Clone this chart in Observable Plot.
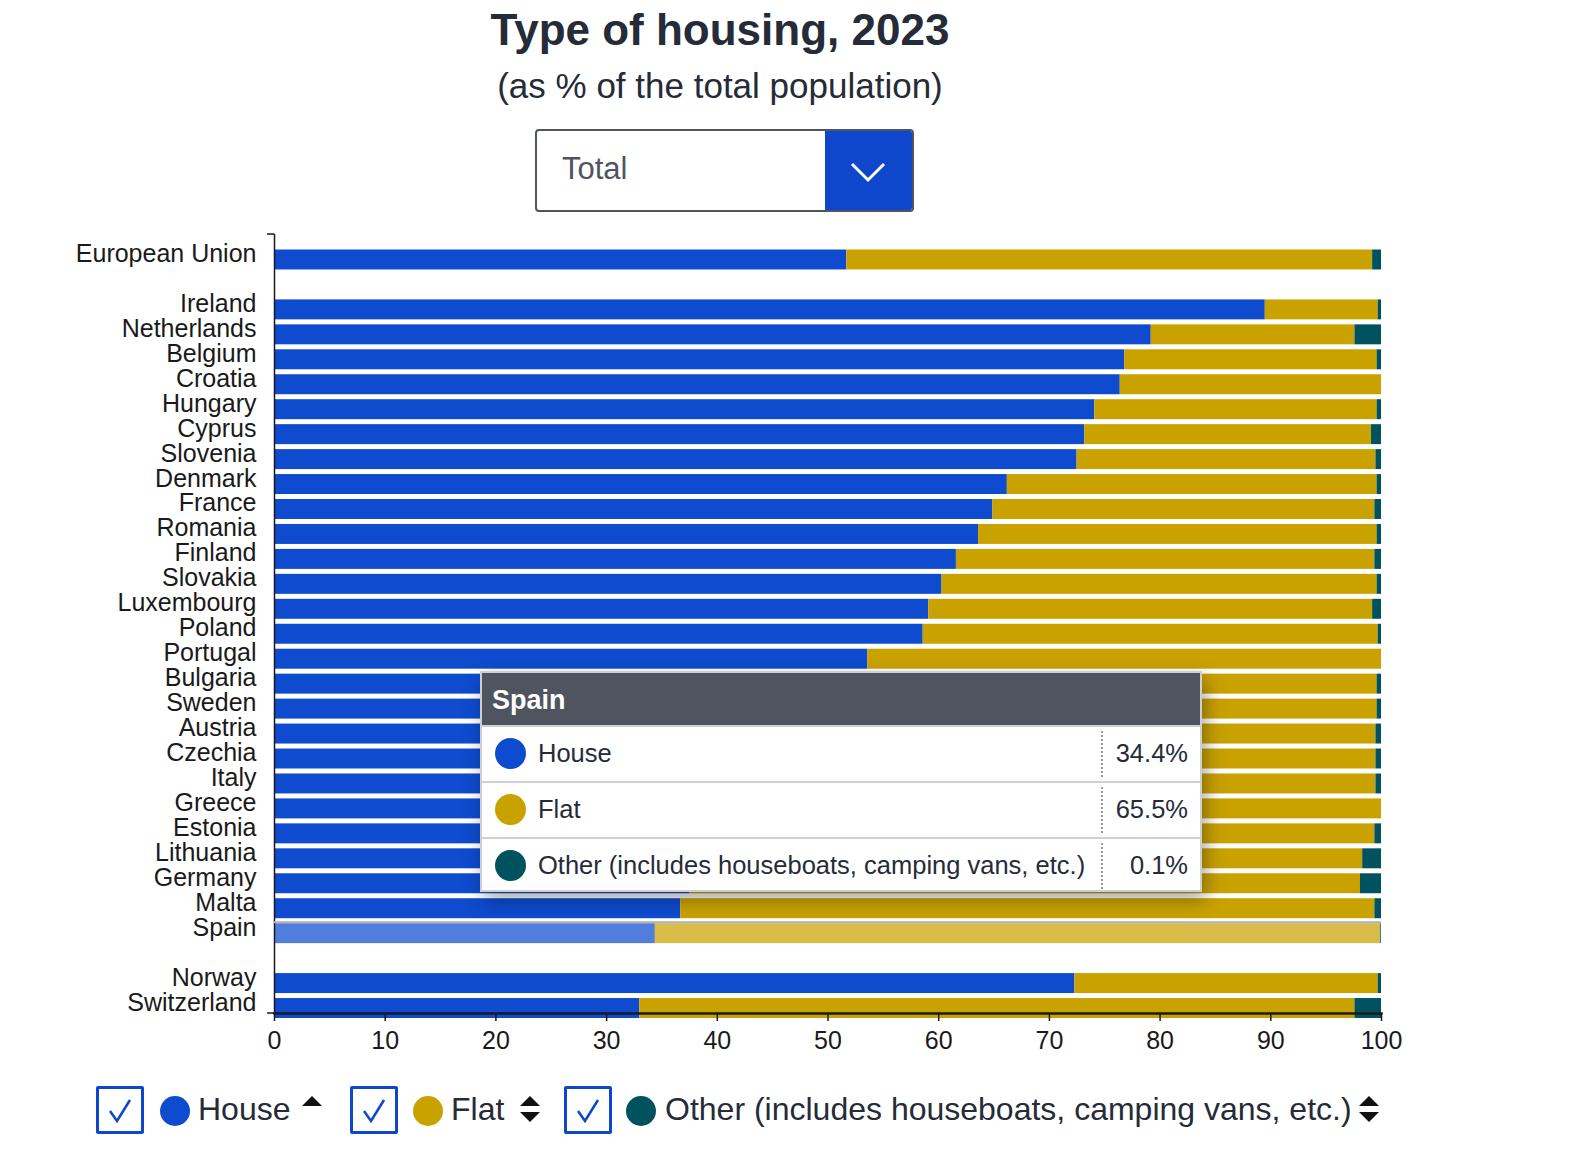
<!DOCTYPE html>
<html>
<head>
<meta charset="utf-8">
<script src="https://cdn.jsdelivr.net/npm/d3@7"></script>
<script src="https://cdn.jsdelivr.net/npm/@observablehq/plot@0.6"></script>
<style>
  html, body { margin: 0; padding: 0; background: #fff; }
  body { width: 1584px; height: 1166px; position: relative; overflow: hidden;
         font-family: "Liberation Sans", Arial, sans-serif; color: #262b38; }
  #title { position: absolute; left: 0; width: 1440px; top: 5px; text-align: center;
           font-size: 44px; font-weight: bold; color: #262b38; }
  #subtitle { position: absolute; left: 0; width: 1440px; top: 66px; text-align: center;
           font-size: 35px; color: #262b38; }
  #dropdown { position: absolute; left: 535px; top: 129px; width: 375px; height: 79px;
           border: 2px solid #50545f; border-radius: 4px; overflow: hidden; background: #fff; }
  #dropdown .txt { position: absolute; left: 25px; top: 20px; font-size: 31px; color: #50545f; }
  #dropdown .btn { position: absolute; right: 0; top: 0; width: 87px; height: 79px; background: #0e47cb; }
  #chart { position: absolute; left: 0; top: 220px; }
  #legend { position: absolute; top: 1086px; left: 0; width: 1584px; height: 50px; }
  .cb { position: absolute; top: 0; width: 42px; height: 42px; border: 3px solid #0e47cb; border-radius: 2px; background: #fff; }
  .dot { position: absolute; top: 10px; width: 30px; height: 30px; border-radius: 50%; }
  .ltxt { position: absolute; top: 5px; font-size: 32px; color: #262b38; white-space: nowrap; }
  .sort { position: absolute; top: 6px; }
  #tooltip { position: absolute; left: 480px; top: 671px; width: 718px; height: 217px;
             border: 2px solid #cfcfcf; background: #fff; box-shadow: 4px 8px 18px rgba(0,0,0,0.35); }
  #tooltip .head { height: 52px; background: #50545f; color: #fff; font-weight: bold; font-size: 27px;
             line-height: 54px; padding-left: 10px; }
  #tooltip .row { position: relative; height: 54px; border-top: 2px solid #d0d0d0; }
  #tooltip .row .c { position: absolute; left: 13px; top: 11px; width: 31px; height: 31px; border-radius: 50%; }
  #tooltip .row .n { position: absolute; left: 56px; top: 12px; font-size: 25.5px; color: #262b38; white-space: nowrap; }
  #tooltip .row .v { position: absolute; right: 12px; top: 12px; font-size: 25.5px; color: #262b38; }
  #tooltip .row .sep { position: absolute; left: 619px; top: 4px; height: 46px; border-left: 2px dotted #999; }
</style>
</head>
<body>
<div id="title">Type of housing, 2023</div>
<div id="subtitle">(as % of the total population)</div>
<div id="dropdown">
  <div class="txt">Total</div>
  <div class="btn"><svg width="87" height="79"><polyline points="27,33 43,49 59,33" fill="none" stroke="#fff" stroke-width="3"/></svg></div>
</div>
<div id="chart"></div>
<div id="legend"></div>
<div id="tooltip"></div>
<script>
// ---- data ----
const countries = ["European Union", "Ireland", "Netherlands", "Belgium", "Croatia", "Hungary", "Cyprus",
  "Slovenia", "Denmark", "France", "Romania", "Finland", "Slovakia", "Luxembourg", "Poland", "Portugal",
  "Bulgaria", "Sweden", "Austria", "Czechia", "Italy", "Greece", "Estonia", "Lithuania", "Germany",
  "Malta", "Spain", "Norway", "Switzerland"];
const house = [51.7, 89.5, 79.2, 76.8, 76.4, 74.1, 73.2, 72.5, 66.2, 64.9, 63.6, 61.6, 60.3, 59.1, 58.6, 53.6,
  52.0, 50.6, 49.6, 47.6, 46.5, 41.5, 40.3, 39.6, 37.5, 36.7, 34.4, 72.3, 33.0];
const flat = [47.5, 10.2, 18.4, 22.8, 23.6, 25.5, 25.9, 27.0, 33.4, 34.5, 36.0, 37.8, 39.3, 40.1, 41.1, 46.4,
  47.6, 49.0, 49.9, 51.9, 53.0, 58.5, 59.1, 58.7, 60.6, 62.7, 65.5, 27.4, 64.6];
const other = [0.8, 0.3, 2.4, 0.4, 0.0, 0.4, 0.9, 0.5, 0.4, 0.6, 0.4, 0.6, 0.4, 0.8, 0.3, 0.0,
  0.4, 0.4, 0.5, 0.5, 0.5, 0.0, 0.6, 1.7, 1.9, 0.6, 0.1, 0.3, 2.4];
const types = ["House", "Flat", "Other (includes houseboats, camping vans, etc.)"];
const colors = ["#0e4bce", "#c9a200", "#00535e"];
const yDomain = ["European Union", "_gap1", ...countries.slice(1, 27), "_gap2", "Norway", "Switzerland"];
const xTicks = [0, 10, 20, 30, 40, 50, 60, 70, 80, 90, 100];
const hovered = "Spain";

const rows = [];
countries.forEach((c, i) => {
  [house[i], flat[i], other[i]].forEach((v, k) => rows.push({country: c, type: types[k], value: v}));
});

const W = 1584, H = 850;
const plot = Plot.plot({
  width: W, height: H,
  marginLeft: 274, marginRight: 203, marginTop: 14, marginBottom: 57,
  style: {fontSize: "25px", fontFamily: "'Liberation Sans', Arial, sans-serif", color: "#1a1a1a", background: "transparent"},
  x: {domain: [0, 100], ticks: xTicks, label: null},
  y: {domain: yDomain, range: [29.5, 798], paddingInner: 0.2, paddingOuter: 0, round: false, label: null},
  color: {domain: types, range: colors},
  marks: [
    Plot.barX(rows, {
      y: "country", x: "value", fill: "type", z: "type",
      fillOpacity: d => d.country === hovered ? 0.72 : 1
    }),
    Plot.axisX({ticks: xTicks, tickSize: 8, tickPadding: 10, fontSize: 25, label: null, stroke: "#1a1a1a", strokeWidth: 1.5}),
    Plot.axisY({tickSize: 0, tickPadding: 18, fontSize: 25, dy: -6, label: null,
      tickFormat: d => d.startsWith("_") ? "" : d}),
    Plot.frame({anchor: "left", stroke: "#1a1a1a", strokeWidth: 1.5}),
    Plot.frame({anchor: "bottom", stroke: "#1a1a1a", strokeWidth: 2.5})
  ]
});
document.getElementById("chart").appendChild(plot);

// small outer ticks on the left axis (bracket ends) and hover outline above highlighted bar
const svg = d3.select(plot);
const xs = plot.scale("x"), ys = plot.scale("y");
const x0 = xs.apply(0);
[14, H - 57].forEach(yy => {
  svg.append("line").attr("x1", x0 - 7).attr("x2", x0).attr("y1", yy).attr("y2", yy)
     .attr("stroke", "#1a1a1a").attr("stroke-width", 1.5);
});
const yh = ys.apply(hovered);
svg.append("line").attr("x1", x0).attr("x2", xs.apply(100)).attr("y1", yh - 1).attr("y2", yh - 1)
   .attr("stroke", "#b0b0b0").attr("stroke-width", 2);

// ---- legend ----
const legend = document.getElementById("legend");
const legendPos = [
  {cb: 96, dot: 160, txt: 198, sort: 300, up: true},
  {cb: 350, dot: 413, txt: 451, sort: 518, up: false},
  {cb: 564, dot: 626, txt: 665, sort: 1357, up: false}
];
const check = '<svg width="42" height="42"><polyline points="11,22 18,32 31,11" fill="none" stroke="#0e47cb" stroke-width="2.5"/></svg>';
types.forEach((t, i) => {
  const p = legendPos[i];
  legend.insertAdjacentHTML("beforeend",
    `<div class="cb" style="left:${p.cb}px">${check}</div>` +
    `<div class="dot" style="left:${p.dot}px;background:${colors[i]}"></div>` +
    `<div class="ltxt" style="left:${p.txt}px">${t}</div>` +
    `<div class="sort" style="left:${p.sort}px"><svg width="24" height="36">` +
    `<polygon points="2,14 12,4 22,14" fill="#111"/>` +
    (p.up ? "" : `<polygon points="2,20 12,30 22,20" fill="#111"/>`) +
    `</svg></div>`);
});

// ---- tooltip for hovered country ----
const tip = document.getElementById("tooltip");
const hi = countries.indexOf(hovered);
const hv = [house[hi], flat[hi], other[hi]];
let html = `<div class="head">${hovered}</div>`;
types.forEach((t, i) => {
  html += `<div class="row"><div class="c" style="background:${colors[i]}"></div>` +
          `<div class="n">${t}</div><div class="sep"></div><div class="v">${hv[i].toFixed(1)}%</div></div>`;
});
tip.innerHTML = html;
</script>
</body>
</html>
